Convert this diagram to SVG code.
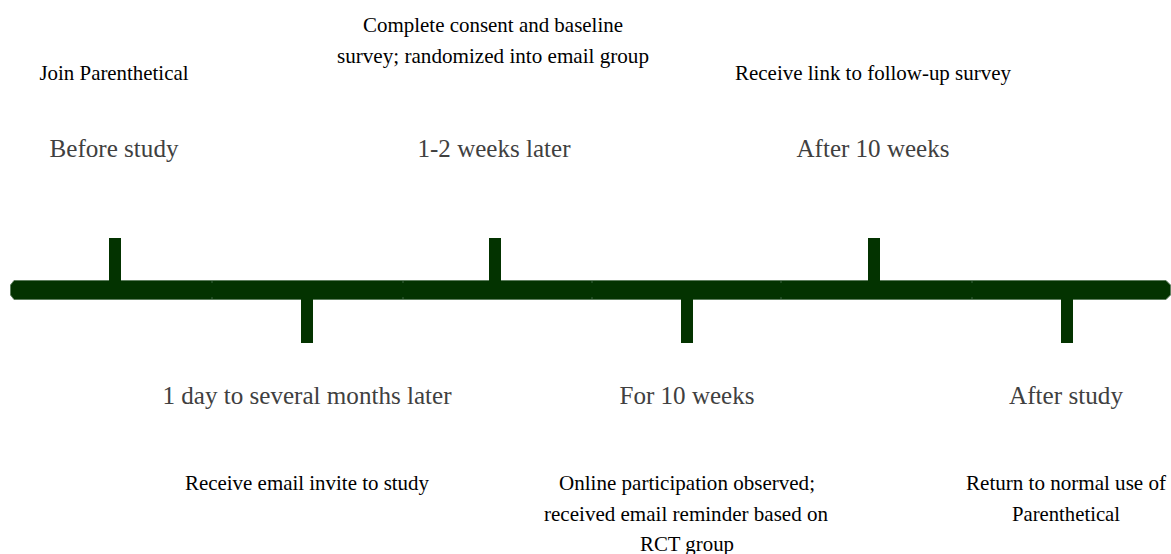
<svg xmlns="http://www.w3.org/2000/svg" width="1171" height="554" viewBox="0 0 1171 554">
  <style>
    .period { font-family: "Liberation Serif", "Times New Roman", serif; font-size: 26px; fill: #404040; text-anchor: middle; }
    .event { font-family: "Liberation Serif", "Times New Roman", serif; font-size: 21px; fill: #000000; text-anchor: middle; }
    .tick { fill: #033300; }
    .bar { fill: #033300; stroke: #5e7e5e; stroke-width: 1; }
    .joint { stroke: #1f4a1f; stroke-width: 2; }
  </style>
  <rect width="1171" height="554" fill="#ffffff"/>

  <!-- timeline bar -->
  <g id="timeline">
    <path class="bar" d="M14,280.5 L1166,280.5 L1170.5,285 L1170.5,295 L1166,299.5 L14,299.5 L10.5,295 L10.5,285 Z"/>
    <line class="joint" x1="212" y1="281" x2="212" y2="283"/>
    <line class="joint" x1="212" y1="297" x2="212" y2="299"/>
    <line class="joint" x1="403" y1="281" x2="403" y2="283"/>
    <line class="joint" x1="403" y1="297" x2="403" y2="299"/>
    <line class="joint" x1="592" y1="281" x2="592" y2="283"/>
    <line class="joint" x1="592" y1="297" x2="592" y2="299"/>
    <line class="joint" x1="781" y1="281" x2="781" y2="283"/>
    <line class="joint" x1="781" y1="297" x2="781" y2="299"/>
    <line class="joint" x1="972" y1="281" x2="972" y2="283"/>
    <line class="joint" x1="972" y1="297" x2="972" y2="299"/>
  </g>

  <g id="before-study">
    <rect class="tick" x="109" y="238" width="12" height="43"/>
    <text class="period" x="114" y="157" textLength="129" lengthAdjust="spacingAndGlyphs">Before study</text>
    <text class="event" x="114" y="80" textLength="149" lengthAdjust="spacingAndGlyphs">Join Parenthetical</text>
  </g>

  <g id="invite">
    <rect class="tick" x="301" y="299" width="12" height="44"/>
    <text class="period" x="307" y="404" textLength="289" lengthAdjust="spacingAndGlyphs">1 day to several months later</text>
    <text class="event" x="307" y="490" textLength="244" lengthAdjust="spacingAndGlyphs">Receive email invite to study</text>
  </g>

  <g id="baseline">
    <rect class="tick" x="489" y="238" width="12" height="43"/>
    <text class="period" x="494" y="157" textLength="153" lengthAdjust="spacingAndGlyphs">1-2 weeks later</text>
    <text class="event" x="493" y="32" textLength="260" lengthAdjust="spacingAndGlyphs">Complete consent and baseline</text>
    <text class="event" x="493" y="63" textLength="312" lengthAdjust="spacingAndGlyphs">survey; randomized into email group</text>
  </g>

  <g id="observation">
    <rect class="tick" x="681" y="299" width="12" height="44"/>
    <text class="period" x="687" y="404" textLength="135" lengthAdjust="spacingAndGlyphs">For 10 weeks</text>
    <text class="event" x="687" y="490" textLength="256" lengthAdjust="spacingAndGlyphs">Online participation observed;</text>
    <text class="event" x="686" y="521" textLength="284" lengthAdjust="spacingAndGlyphs">received email reminder based on</text>
    <text class="event" x="687" y="551" textLength="94" lengthAdjust="spacingAndGlyphs">RCT group</text>
  </g>

  <g id="follow-up">
    <rect class="tick" x="868" y="238" width="12" height="43"/>
    <text class="period" x="873" y="157" textLength="153" lengthAdjust="spacingAndGlyphs">After 10 weeks</text>
    <text class="event" x="873" y="80" textLength="276" lengthAdjust="spacingAndGlyphs">Receive link to follow-up survey</text>
  </g>

  <g id="after-study">
    <rect class="tick" x="1061" y="299" width="12" height="44"/>
    <text class="period" x="1066" y="404" textLength="114" lengthAdjust="spacingAndGlyphs">After study</text>
    <text class="event" x="1066" y="490" textLength="200" lengthAdjust="spacingAndGlyphs">Return to normal use of</text>
    <text class="event" x="1066" y="521" textLength="108" lengthAdjust="spacingAndGlyphs">Parenthetical</text>
  </g>
</svg>
